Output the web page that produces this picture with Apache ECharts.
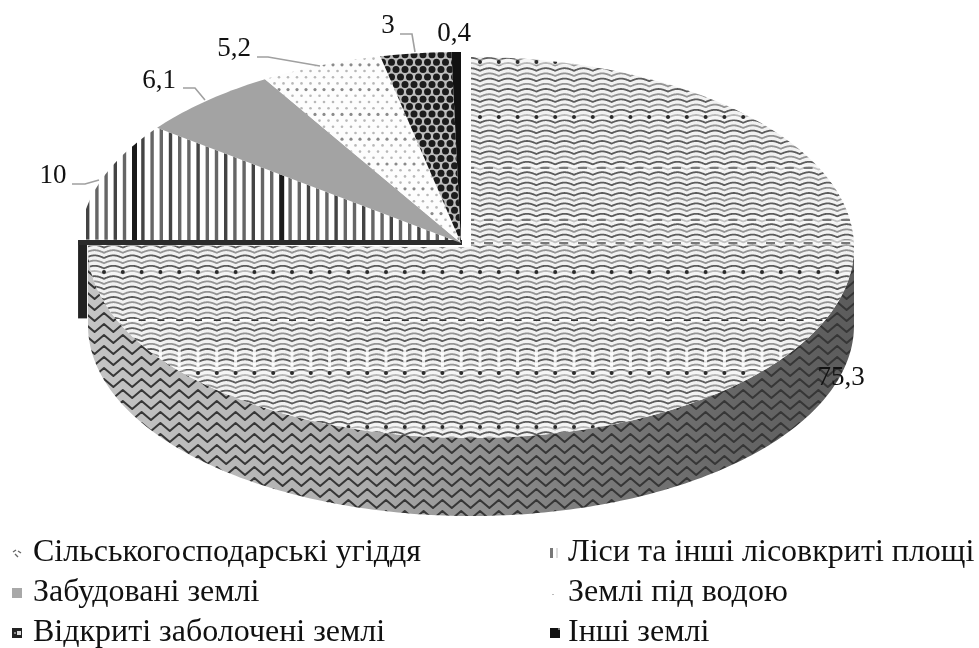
<!DOCTYPE html>
<html>
<head>
<meta charset="utf-8">
<style>html,body{margin:0;padding:0;background:#fff}#c{width:979px;height:648px}</style>
<script src="https://cdn.jsdelivr.net/npm/echarts@6/dist/echarts.min.js"></script>
</head>
<body>
<div id="c"></div>
<script>
const categories = ['Сільськогосподарські угіддя','Ліси та інші лісовкриті площі','Забудовані землі','Землі під водою','Відкриті заболочені землі','Інші землі'];
const values = [75.3, 10, 6.1, 5.2, 3, 0.4];
const valueLabels = ['75,3','10','6,1','5,2','3','0,4'];

// layout (styling only)
const W = 979, H = 648, FONT = '"Liberation Serif","Times New Roman",serif';
const mainPie = {cx:471, cy:247.5, rx:383, ry:190.5, depth:78};
const restPie = {cx:461, cy:243, rx:381, ry:191, depth:78};
const labelSpots = [[841,378],[53,176],[159,81],[234,49],[388,26],[454,34]];
const leaders = [null,
  [[72,184],[85,184],[99,180]],
  [[183,88],[195,88],[205,100]],
  [[257,57],[268,57],[320,66]],
  [[400,34],[412,34],[415,52]],
  null];

const PER = 18.8, PHASE = 10;
function page(draw){const c=document.createElement('canvas');c.width=W;c.height=H;draw(c.getContext('2d'));return {image:c,repeat:'no-repeat'};}
function tile(n,draw){const c=document.createElement('canvas');c.width=n;c.height=n;draw(c.getContext('2d'));return {image:c,repeat:'repeat'};}
const topTex = page(g=>{
  g.fillStyle='#f2f2f2';g.fillRect(0,0,W,H);
  let n=0;
  for(let y=50;y<H;y+=5.2,n++){
    g.beginPath();
    for(let x=0;x<=W;x+=0.5){
      const yy=y-2.6*Math.abs(Math.sin(Math.PI*(x-PHASE)/PER));
      x?g.lineTo(x,yy):g.moveTo(x,yy);
    }
    g.strokeStyle=n%2?'#949494':'#5c5c5c';g.lineWidth=1.8;g.stroke();
  }
  // moire rows
  [168,220,243].forEach(y=>{g.fillStyle='rgba(255,255,255,0.45)';g.fillRect(0,y-3,W,6);
    g.fillStyle='#777';for(let x=PHASE+4;x<W;x+=PER){g.fillRect(x,y-1,9,2);}});
  [62,117,272,373,427].forEach(y=>{
    g.fillStyle='rgba(255,255,255,0.35)';g.fillRect(0,y-3,W,6);
    g.fillStyle='#2a2a2a';for(let x=PHASE;x<W;x+=PER){g.beginPath();g.arc(x,y,2,0,7);g.fill();}});
  g.fillStyle='#fff';g.fillRect(0,319,W,2.2);
  g.fillStyle='#1c1c1c';for(let x=PHASE-3;x<W;x+=PER){g.fillRect(x,319.3,7,1.6);}
  g.fillStyle='rgba(255,255,255,0.85)';
  for(let x=PHASE-1.5;x<W;x+=PER){g.fillRect(x,348,3,19);}
  g.fillStyle='rgba(255,255,255,0.8)';g.fillRect(0,367,W,2);
});
const wallTex = page(g=>{
  const gr=g.createLinearGradient(87,0,854,0);
  gr.addColorStop(0,'#c4c4c4');gr.addColorStop(0.35,'#aeaeae');gr.addColorStop(0.6,'#828282');gr.addColorStop(0.85,'#666');gr.addColorStop(1,'#5c5c5c');
  g.fillStyle=gr;g.fillRect(0,0,W,H);
  for(let y=240;y<H;y+=11){
    g.beginPath();
    for(let k=-1,x=0;x<W+20;k++,x+=PER/2){
      const xx=PHASE+k*PER/2,yy=y+(k%2?4:-4);
      k<0?g.moveTo(xx,yy):g.lineTo(xx,yy);
    }
    g.strokeStyle='#363636';g.lineWidth=2;g.lineJoin='round';g.stroke();
  }
});
const stripeTex = page(g=>{
  g.fillStyle='#fff';g.fillRect(0,0,W,H);
  for(let i=0,x=86;x<470;i++,x+=9.2){
    g.fillStyle=(i===5||i===21)?'#1a1a1a':(i%3===0?'#444':'#666');
    g.fillRect(x,0,(i===5||i===21)?5:3.4,H);
  }
});
const dotTex = page(g=>{
  g.fillStyle='#fdfdfd';g.fillRect(0,0,W,H);
  for(let r=0,y=40;y<250;r++,y+=6.2){
    for(let x=(r%2)*4.5;x<W;x+=9){
      g.fillStyle=r%4===0?'#8a8a8a':'#b8b8b8';
      g.beginPath();g.arc(x,y,r%4===0?1.6:1.3,0,7);g.fill();
    }
  }
});
const combTex = page(g=>{
  g.fillStyle='#bdbdbd';g.fillRect(0,0,W,H);
  for(let r=0,y=40;y<250;r++,y+=7.4){
    for(let x=(r%2)*4.5;x<W;x+=9){
      g.fillStyle='#1c1c1c';g.beginPath();g.arc(x,y,3.5,0,7);g.fill();
    }
  }
});
const fills = [topTex, stripeTex, '#a3a3a3', dotTex, combTex, '#111'];

// tiny legend swatches
const markers = [
  tile(10,g=>{g.fillStyle='#fff';g.fillRect(0,0,10,10);g.strokeStyle='#666';g.lineWidth=1.4;g.beginPath();g.moveTo(1,4);g.lineTo(4,2);g.moveTo(3,6);g.lineTo(6,9);g.moveTo(6,3);g.lineTo(9,5);g.stroke();}),
  tile(10,g=>{g.fillStyle='#fff';g.fillRect(0,0,10,10);g.fillStyle='#777';g.fillRect(0,0,3,10);g.fillStyle='#ddd';g.fillRect(6,0,2,10);}),
  '#a8a8a8',
  tile(10,g=>{g.fillStyle='#fff';g.fillRect(0,0,10,10);g.fillStyle='#bbb';g.fillRect(2,6,2,1);}),
  tile(10,g=>{g.fillStyle='#222';g.fillRect(0,0,10,10);g.fillStyle='#ddd';g.fillRect(5,3,4,4);g.fillStyle='#888';g.fillRect(2,4,2,2);}),
  tile(10,g=>{g.fillStyle='#111';g.fillRect(0,0,10,10);g.fillStyle='#777';g.fillRect(8,0,2,2);})
];

const total = values.reduce((a,b)=>a+b,0);
function angles(i){
  let s=0;for(let k=0;k<i;k++)s+=values[k];
  return [s/total*360,(s+values[i])/total*360];
}
function rim(p,deg,dy){const a=deg*Math.PI/180;return [p.cx+p.rx*Math.sin(a),p.cy-p.ry*Math.cos(a)+(dy||0)];}
function arc(p,a,b,dy){const o=[];const n=Math.max(2,Math.ceil(Math.abs(b-a)));for(let k=0;k<=n;k++)o.push(rim(p,a+(b-a)*k/n,dy));return o;}

function render(i){
  return function(){
    const p=i===0?mainPie:restPie;
    const [a,b]=angles(i);
    const kids=[];
    if(i===0){
      const lo=Math.max(a,90),hi=Math.min(b,270);
      kids.push({type:'polygon',shape:{points:arc(p,lo,hi,0).concat(arc(p,hi,lo,p.depth))},style:{fill:wallTex}});
    }
    kids.push({type:'polygon',shape:{points:[[p.cx,p.cy]].concat(arc(p,a,b,0))},style:{fill:fills[i]}});
    if(i===1){
      const q=rim(p,a,0);
      kids.push({type:'rect',shape:{x:q[0]-2,y:q[1]+1,width:9,height:p.depth},style:{fill:'#222'}});
      kids.push({type:'line',shape:{x1:q[0]-2,y1:q[1]+3,x2:p.cx+1,y2:q[1]+3},style:{stroke:'#2b2b2b',lineWidth:5}});
    }
    if(leaders[i])kids.push({type:'polyline',shape:{points:leaders[i]},style:{stroke:'#a0a0a0',lineWidth:1.6,fill:'none'}});
    kids.push({type:'text',style:{text:valueLabels[i],x:labelSpots[i][0],y:labelSpots[i][1],align:'center',verticalAlign:'middle',font:'27px '+FONT,fill:'#111'}});
    return {type:'group',children:kids};
  };
}

const chart = echarts.init(document.getElementById('c'),null,{renderer:'canvas',width:W,height:H});
const legendItem = i=>({name:categories[i],icon:'rect',itemStyle:{color:markers[i]}});
const legendBase = {orient:'vertical',top:537,height:140,padding:0,itemWidth:10,itemHeight:10,itemGap:8,selectedMode:false};
const legendText = pad=>({fontFamily:FONT,fontSize:32,color:'#111',lineHeight:30,padding:[0,0,0,pad]});
chart.setOption({
  animation:false,
  backgroundColor:'#fff',
  legend:[
    Object.assign({},legendBase,{left:12,textStyle:legendText(6),data:[0,2,4].map(legendItem)}),
    Object.assign({},legendBase,{left:550,textStyle:legendText(3),data:[1,3,5].map(legendItem)})
  ],
  series:categories.map((name,i)=>({
    type:'custom',name,coordinateSystem:'none',silent:true,
    itemStyle:{color:'#a8a8a8'},
    data:[[values[i]]],
    renderItem:render(i)
  }))
});
</script>
</body>
</html>
